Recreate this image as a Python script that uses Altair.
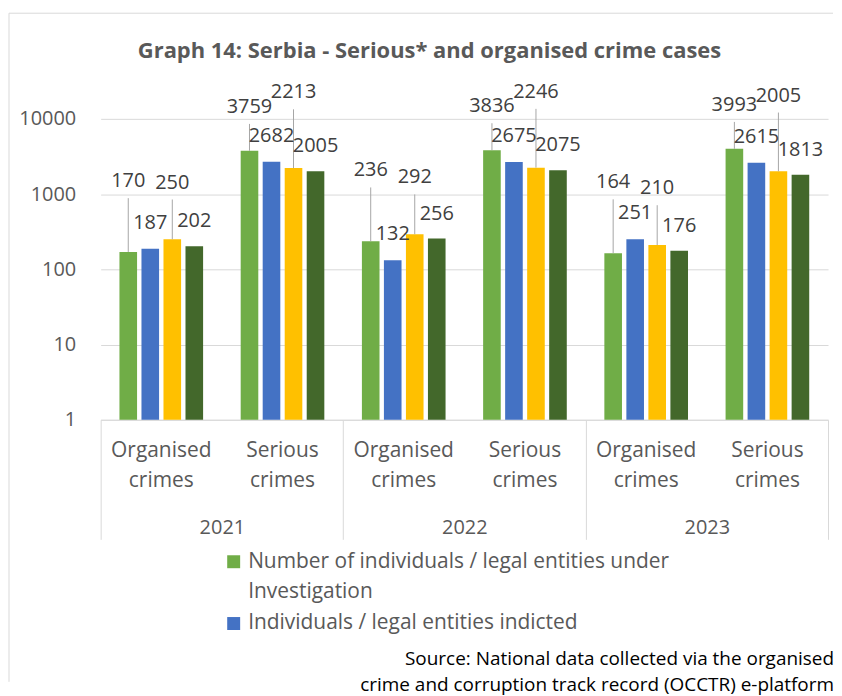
import altair as alt
import pandas as pd

years = ["2021", "2022", "2023"]
categories = ["Organised crimes", "Serious crimes"]
series = [
    "Number of individuals / legal entities under Investigation",
    "Individuals / legal entities indicted",
    "Individuals / legal entities convicted",
    "Individuals / legal entities with final judgements",
]
investigated = [170, 3759, 236, 3836, 164, 3993]
indicted = [187, 2682, 132, 2675, 251, 2615]
convicted = [250, 2213, 292, 2246, 210, 2005]
final = [202, 2005, 256, 2075, 176, 1813]
colors = ["#70AD47", "#4472C4", "#FFC000", "#43682B"]

source_lines = [
    "Source: National data collected via the organised",
    "crime and corruption track record (OCCTR) e-platform",
]

FONT = "Open Sans, Lato, sans-serif"
GRAY = "#595959"
GRID = "#D9D9D9"

slots = [f"{y}|{c}" for y in years for c in categories]
rows = []
for i, (y, c) in enumerate([(y, c) for y in years for c in categories]):
    for k, vals in enumerate([investigated, indicted, convicted, final]):
        rows.append({"year": y, "category": c, "slot": f"{y}|{c}",
                     "series": series[k], "sidx": k, "value": vals[i]})
df = pd.DataFrame(rows)

# label lift (pixels above bar top) per series / category, converted via the log scale
PXD = 302 / 4
lift_expr = ("(datum.sidx == 0 ? (datum.category == 'Serious crimes' ? 44 : 71)"
             " : datum.sidx == 2 ? (datum.category == 'Serious crimes' ? 76 : 57)"
             " : datum.sidx == 1 ? 26 : 25)")

x_slot = alt.X(
    "slot:N", sort=slots,
    scale=alt.Scale(paddingInner=0.31, paddingOuter=0.155),
    axis=alt.Axis(orient="bottom", title=None, labelAngle=0,
                  labelExpr="split(split(datum.label, '|')[1], ' ')",
                  ticks=False, domain=True, domainColor=GRID, grid=False,
                  labelFontSize=21, labelColor=GRAY, labelPadding=20,
                  labelLineHeight=30, labelBaseline="top"),
)
x_off = alt.XOffset("series:N", sort=series,
                    scale=alt.Scale(paddingInner=0.2, paddingOuter=0))
y_enc = alt.Y(
    "value:Q", stack=None,
    scale=alt.Scale(type="log", domain=[1, 10000]),
    axis=alt.Axis(title=None, values=[1, 10, 100, 1000, 10000], format="d",
                  ticks=False, domain=False, gridColor=GRID,
                  labelFontSize=20, labelColor=GRAY, labelPadding=25),
)
color = alt.Color(
    "series:N", sort=series,
    scale=alt.Scale(domain=series, range=colors),
    legend=alt.Legend(
        values=series[:2], orient="none", legendX=123, legendY=434,
        title=None, symbolType="square", symbolSize=169, symbolStrokeWidth=0,
        labelFontSize=21, labelColor=GRAY, labelLimit=700, labelOffset=4,
        padding=0, rowPadding=10, direction="vertical",
        labelExpr="datum.label == 'Number of individuals / legal entities under Investigation' ? ['Number of individuals / legal entities under', 'Investigation'] : datum.label",
    ),
)

base = alt.Chart(df)
bars = base.mark_bar().encode(x=x_slot, xOffset=x_off, y=y_enc,
                              y2=alt.Y2(datum=1), color=color)
leaders = base.transform_filter("datum.sidx == 0 || datum.sidx == 2").transform_calculate(
    top=f"datum.value * pow(10, ({lift_expr} - 17) / {PXD})"
).mark_rule(color="#A6A6A6", strokeWidth=1).encode(
    x=x_slot, xOffset=x_off, y="value:Q", y2="top:Q")
labels = base.transform_calculate(
    ly=f"datum.value * pow(10, {lift_expr} / {PXD})"
).mark_text(fontSize=20, color="#404040", baseline="middle").encode(
    x=x_slot, xOffset=x_off, y="ly:Q", text="value:Q")

inner = alt.layer(bars, leaders, labels)

year_layer = alt.Chart(pd.DataFrame({"year": years})).mark_point(opacity=0).encode(
    x=alt.X("year:N", sort=years,
            scale=alt.Scale(type="band", paddingInner=0, paddingOuter=0),
            axis=alt.Axis(orient="bottom", title=None, labelAngle=0,
                          tickBand="extent", tickSize=120, tickColor=GRID,
                          domain=False, grid=False, labelFontSize=20,
                          labelColor=GRAY, labelPadding=-22, labelBaseline="top"))
)

one = pd.DataFrame({"k": [0]})
border_left = alt.Chart(one).mark_rule(color=GRID, strokeWidth=1).encode(
    x=alt.value(-92), y=alt.value(-106), y2=alt.value(565))
border_top = alt.Chart(one).mark_rule(color=GRID, strokeWidth=1).encode(
    x=alt.value(-92), x2=alt.value(735), y=alt.value(-106))
source = alt.Chart(one).mark_text(
    text=source_lines, align="right", baseline="middle", fontSize=19,
    lineHeight=26, color="#000000").encode(x=alt.value(736), y=alt.value(542))

chart = alt.layer(inner, year_layer, border_left, border_top, source).resolve_scale(
    x="independent"
).properties(
    width=730, height=302,
    padding={"left": 0, "top": 3, "right": 0, "bottom": 0},
    title=alt.TitleParams("Graph 14: Serbia - Serious* and organised crime cases",
                          fontSize=22, fontWeight="bold", color=GRAY,
                          offset=-50, dx=-35, anchor="middle"),
).configure(font=FONT, style={"guide-label": {"lineHeight": 30}}).configure_view(stroke=None)

chart.save("out.html", embed_options={"renderer": "svg", "actions": False})
